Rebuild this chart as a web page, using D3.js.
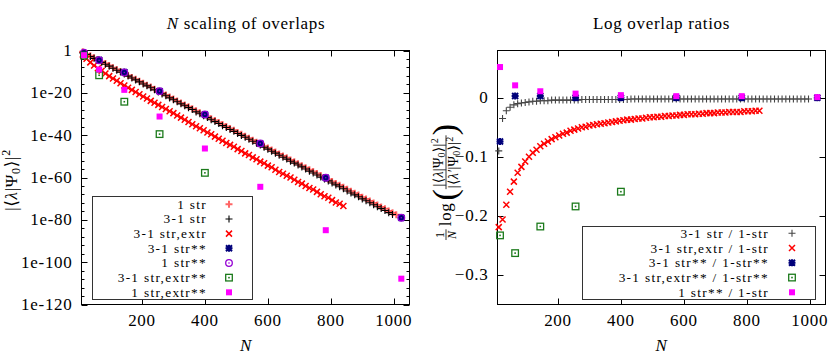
<!DOCTYPE html>
<html>
<head>
<meta charset="utf-8">
<script src="https://cdn.jsdelivr.net/npm/d3@7"></script>
<style>
  body { margin: 0; background: #fff; }
  svg text { font-family: "Liberation Serif", "DejaVu Serif", serif; font-size: 17px; fill: #000; letter-spacing: 0.7px; }
  svg text.leg { font-size: 13.3px; letter-spacing: 1.3px; }
</style>
</head>
<body>
<svg id="chart" width="831" height="360"></svg>
<script>
// ---- data ----
// dense runs sit on an N grid with step 12
const gridN1 = d3.range(12, 1009, 12);   // 1 str
const gridN31 = d3.range(12, 997, 12);   // 3-1 str
const gridNExtr = d3.range(12, 841, 12); // 3-1 str,extr

// left panel: log10 |<lambda|Psi0>|^2
const oneStrLog = [
  -0.6, -1.6, -2.5, -3.4, -4.3, -5.3, -6.2, -7.1, -8.1, -9.0,
  -9.9, -10.8, -11.8, -12.7, -13.6, -14.5, -15.5, -16.4, -17.3, -18.3,
  -19.2, -20.1, -21.0, -22.0, -22.9, -23.8, -24.8, -25.7, -26.6, -27.5,
  -28.5, -29.4, -30.3, -31.2, -32.2, -33.1, -34.0, -35.0, -35.9, -36.8,
  -37.7, -38.7, -39.6, -40.5, -41.4, -42.4, -43.3, -44.2, -45.2, -46.1,
  -47.0, -47.9, -48.9, -49.8, -50.7, -51.7, -52.6, -53.5, -54.4, -55.4,
  -56.3, -57.2, -58.1, -59.1, -60.0, -60.9, -61.9, -62.8, -63.7, -64.6,
  -65.6, -66.5, -67.4, -68.3, -69.3, -70.2, -71.1, -72.1, -73.0, -73.9,
  -74.8, -75.8, -76.7, -77.6
];
const threeOneStrLog = [
  -1.1, -1.9, -2.8, -3.7, -4.6, -5.6, -6.5, -7.4, -8.4, -9.3,
  -10.2, -11.1, -12.1, -13.0, -13.9, -14.8, -15.8, -16.7, -17.6, -18.6,
  -19.6, -20.5, -21.4, -22.4, -23.3, -24.2, -25.2, -26.1, -27.0, -27.9,
  -29.0, -29.9, -30.8, -31.7, -32.7, -33.6, -34.5, -35.5, -36.4, -37.3,
  -38.2, -39.2, -40.1, -41.0, -41.9, -42.9, -43.8, -44.7, -45.7, -46.6,
  -47.6, -48.5, -49.5, -50.4, -51.3, -52.3, -53.2, -54.1, -55.0, -56.0,
  -57.0, -57.9, -58.8, -59.8, -60.7, -61.6, -62.6, -63.5, -64.4, -65.3,
  -66.4, -67.3, -68.2, -69.1, -70.1, -71.0, -71.9, -72.9, -73.8, -74.7,
  -75.6, -76.6, -77.5
];
const threeOneExtrLog = [
  -1.9, -3.9, -5.6, -7.1, -8.4, -9.6, -10.9, -12.1, -13.2, -14.3,
  -15.5, -16.5, -17.6, -18.6, -19.6, -20.7, -21.7, -22.7, -23.8, -24.7,
  -25.7, -26.7, -27.6, -28.7, -29.6, -30.7, -31.7, -32.7, -33.8, -34.8,
  -35.8, -36.7, -37.7, -38.7, -39.6, -40.7, -41.7, -42.6, -43.7, -44.6,
  -45.5, -46.6, -47.5, -48.6, -49.4, -50.5, -51.4, -52.5, -53.3, -54.4,
  -55.2, -56.3, -57.4, -58.2, -59.2, -60.0, -61.1, -62.1, -62.9, -64.0,
  -65.0, -65.7, -66.8, -67.9, -68.9, -69.6, -70.7, -71.8, -72.4, -73.5
];
const starN = [16, 64, 144, 256, 400, 576, 784, 1024];
const extrStarN = [16, 64, 144, 256, 400];
const threeOneStarLog = [-1.5, -4.5, -10.2, -19.2, -30.2, -43.9, -60.1, -79.0];
const oneStarLog = [-1.0, -4.6, -10.4, -19.2, -30.2, -43.9, -60.1, -79.0];
const threeOneExtrStarLog = [-2.4, -11.7, -24.2, -39.5, -57.8];
const oneExtrStarLog = [-2.2, -9.0, -18.6, -31.2, -46.3, -64.4, -84.9, -107.8];

// right panel: (1/N) log ratios
const ratio31 = [
  -0.090, -0.035, -0.022, -0.016, -0.012, -0.010, -0.009, -0.008, -0.007, -0.006,
  -0.006, -0.005, -0.005, -0.005, -0.004, -0.004, -0.004, -0.004, -0.004, -0.004,
  -0.004, -0.004, -0.003, -0.003, -0.003, -0.003, -0.003, -0.003, -0.003, -0.003,
  -0.003, -0.003, -0.003, -0.003, -0.003, -0.002, -0.002, -0.002, -0.002, -0.002,
  -0.002, -0.002, -0.002, -0.002, -0.002, -0.002, -0.002, -0.002, -0.002, -0.002,
  -0.002, -0.002, -0.002, -0.002, -0.002, -0.002, -0.002, -0.002, -0.002, -0.002,
  -0.002, -0.002, -0.002, -0.002, -0.002, -0.002, -0.002, -0.002, -0.002, -0.002,
  -0.002, -0.002, -0.002, -0.002, -0.002, -0.002, -0.002, -0.002, -0.002, -0.002,
  -0.002, -0.002, -0.002
];
const ratioExtr = [
  -0.219, -0.206, -0.181, -0.159, -0.142, -0.127, -0.117, -0.108, -0.100, -0.093,
  -0.088, -0.082, -0.078, -0.074, -0.070, -0.067, -0.064, -0.061, -0.059, -0.056,
  -0.054, -0.052, -0.050, -0.049, -0.047, -0.046, -0.045, -0.044, -0.043, -0.042,
  -0.041, -0.040, -0.039, -0.038, -0.037, -0.037, -0.036, -0.035, -0.035, -0.034,
  -0.033, -0.033, -0.032, -0.032, -0.031, -0.031, -0.030, -0.030, -0.029, -0.029,
  -0.028, -0.028, -0.028, -0.027, -0.027, -0.026, -0.026, -0.026, -0.025, -0.025,
  -0.025, -0.024, -0.024, -0.024, -0.024, -0.023, -0.023, -0.023, -0.022, -0.022
];
const ratio31Star = [-0.074, 0.003, 0.003, 0.000, 0.000, 0.000, 0.000, 0.000];
const ratioExtrStar = [-0.233, -0.263, -0.218, -0.184, -0.159];
const ratio1Star = [0.052, 0.021, 0.011, 0.007, 0.0044, 0.0027, 0.0027, 0.001];

const leftYTicks = [0, -20, -40, -60, -80, -100, -120];
const rightYTicks = [0, -0.1, -0.2, -0.3];
const xTicks = [200, 400, 600, 800, 1000];

// ---- styles ----
const RED = '#ff0000', NAVY = '#00007a', PURPLE = '#9400d3', GREEN = '#1b7a1b', MAGENTA = '#ff00ff';

const svg = d3.select('#chart');

function marker(g, type, x, y, color) {
  const s = 3.5;
  if (type === 'plus' || type === 'plusband' || type === 'plusgrey') {
    g.append('path')
      .attr('d', `M${x - s},${y}H${x + s}M${x},${y - s}V${y + s}`)
      .attr('stroke', color)
      .attr('stroke-width', type === 'plusband' ? 2 : 1.1)
      .attr('stroke-opacity', type === 'plusband' ? 0.6 : 1)
      .attr('fill', 'none');
  } else if (type === 'cross') {
    const c = 3;
    g.append('path')
      .attr('d', `M${x - c},${y - c}L${x + c},${y + c}M${x - c},${y + c}L${x + c},${y - c}`)
      .attr('stroke', color).attr('stroke-width', 1.5).attr('fill', 'none');
  } else if (type === 'star') {
    const c = 3;
    g.append('path')
      .attr('d', `M${x - c},${y - c}L${x + c},${y + c}M${x - c},${y + c}L${x + c},${y - c}M${x - s},${y}H${x + s}M${x},${y - s}V${y + s}`)
      .attr('stroke', color).attr('stroke-width', 2).attr('fill', 'none');
  } else if (type === 'circle') {
    g.append('circle').attr('cx', x).attr('cy', y).attr('r', 3.3)
      .attr('fill', 'none').attr('stroke', color).attr('stroke-width', 1.3);
    g.append('circle').attr('cx', x).attr('cy', y).attr('r', 0.8).attr('fill', color);
  } else if (type === 'square') {
    g.append('rect').attr('x', x - 3.3).attr('y', y - 3.3).attr('width', 6.6).attr('height', 6.6)
      .attr('fill', 'none').attr('stroke', color).attr('stroke-width', 1.3);
    g.append('rect').attr('x', x - 0.8).attr('y', y - 0.8).attr('width', 1.6).attr('height', 1.6).attr('fill', color);
  } else if (type === 'fsquare') {
    g.append('rect').attr('x', x - 3).attr('y', y - 3).attr('width', 6).attr('height', 6).attr('fill', color);
  }
}

function frame(box, x, y, yTicks, yFmt, minorTicks) {
  const g = svg.append('g');
  g.append('rect')
    .attr('x', box.x0).attr('y', box.y0)
    .attr('width', box.x1 - box.x0).attr('height', box.y1 - box.y0)
    .attr('fill', 'none').attr('stroke', '#000').attr('stroke-width', 1);
  const tk = [];
  xTicks.forEach(t => {
    const px = Math.round(x(t)) + 0.5;
    tk.push(`M${px},${box.y1}v-6M${px},${box.y0}v6`);
    g.append('text').attr('x', x(t)).attr('y', 326).attr('text-anchor', 'middle').text(t);
  });
  yTicks.forEach(t => {
    const py = Math.round(y(t)) + 0.5;
    tk.push(`M${box.x0},${py}h6M${box.x1},${py}h-6`);
    g.append('text').attr('x', box.x0 - 9).attr('y', y(t) + 5.5).attr('text-anchor', 'end').text(yFmt(t));
  });
  (minorTicks || []).forEach(t => {
    const py = Math.round(y(t)) + 0.5;
    tk.push(`M${box.x0},${py}h3M${box.x1},${py}h-3`);
  });
  g.append('path').attr('d', tk.join('')).attr('stroke', '#000').attr('stroke-width', 1).attr('fill', 'none');
  return g;
}

function legend(box, textX, markX, rowY, step, entries) {
  const g = svg.append('g');
  g.append('rect')
    .attr('x', box.x0).attr('y', box.y0)
    .attr('width', box.x1 - box.x0).attr('height', box.y1 - box.y0)
    .attr('fill', '#fff').attr('stroke', '#333').attr('stroke-width', 1);
  entries.forEach((e, i) => {
    const cy = rowY + i * step;
    g.append('text').attr('class', 'leg').attr('x', textX).attr('y', cy + 4.5).attr('text-anchor', 'end').text(e.label);
    marker(g, e.type, markX, cy, e.color);
  });
}

function series(g, xs, vals, x, y, type, color) {
  xs.forEach((n, i) => marker(g, type, x(n), y(vals[i]), color));
}

// ================= left panel =================
const L = { x0: 81.5, x1: 409.5, y0: 50.5, y1: 304.5 };
const xL = d3.scaleLinear().domain([8, 1050]).range([L.x0, L.x1]);
const yLog = d3.scaleLog().domain([1e-120, 1]).range([L.y1, L.y0]);
const yL = e => yLog(Math.pow(10, e));

const minorL = d3.range(0, -121, -4).filter(e => e % 20 !== 0);
frame(L, xL, yL, leftYTicks, e => e === 0 ? '1' : `1e${e}`, minorL);

const pl = svg.append('g');
series(pl, gridN1, oneStrLog, xL, yL, 'plusband', RED);
series(pl, gridN31, threeOneStrLog, xL, yL, 'plus', '#000');
series(pl, gridNExtr, threeOneExtrLog, xL, yL, 'cross', RED);
series(pl, starN, threeOneStarLog, xL, yL, 'star', NAVY);
series(pl, starN, oneStarLog, xL, yL, 'circle', PURPLE);
series(pl, extrStarN, threeOneExtrStarLog, xL, yL, 'square', GREEN);
series(pl, starN, oneExtrStarLog, xL, yL, 'fsquare', MAGENTA);

legend({ x0: 92.5, x1: 252.5, y0: 196.5, y1: 299.5 }, 207, 229, 204.3, 14.67, [
  { label: '1 str', type: 'plusband', color: RED },
  { label: '3-1 str', type: 'plus', color: '#000' },
  { label: '3-1 str,extr', type: 'cross', color: RED },
  { label: '3-1 str**', type: 'star', color: NAVY },
  { label: '1 str**', type: 'circle', color: PURPLE },
  { label: '3-1 str,extr**', type: 'square', color: GREEN },
  { label: '1 str,extr**', type: 'fsquare', color: MAGENTA }
]);

// titles & labels
const t1 = svg.append('text').attr('x', 246).attr('y', 29).attr('text-anchor', 'middle');
t1.append('tspan').style('font-style', 'italic').text('N');
t1.append('tspan').text(' scaling of overlaps');
svg.append('text').attr('x', 246).attr('y', 351).attr('text-anchor', 'middle').style('font-style', 'italic').text('N');

const ylab = svg.append('text').attr('transform', 'translate(17,180) rotate(-90)').attr('text-anchor', 'middle');
ylab.append('tspan').text('|⟨');
ylab.append('tspan').style('font-style', 'italic').text('λ');
ylab.append('tspan').text('|Ψ');
ylab.append('tspan').attr('dy', 3).style('font-size', '12px').text('0');
ylab.append('tspan').attr('dy', -3).text('⟩|');
ylab.append('tspan').attr('dy', -7).style('font-size', '12px').text('2');

// ================= right panel =================
const R = { x0: 497.5, x1: 825.5, y0: 50.5, y1: 304.5 };
const xR = d3.scaleLinear().domain([8, 1050]).range([R.x0, R.x1]);
const yR = d3.scaleLinear().domain([-0.35, 0.08]).range([R.y1, R.y0]);

frame(R, xR, yR, rightYTicks, t => t === 0 ? '0' : d3.format('.1f')(t), []);

const pr = svg.append('g');
series(pr, gridN31, ratio31, xR, yR, 'plusgrey', '#444');
series(pr, gridNExtr, ratioExtr, xR, yR, 'cross', RED);
series(pr, starN, ratio31Star, xR, yR, 'star', NAVY);
series(pr, extrStarN, ratioExtrStar, xR, yR, 'square', GREEN);
series(pr, starN, ratio1Star, xR, yR, 'fsquare', MAGENTA);

legend({ x0: 582.5, x1: 815.5, y0: 226.5, y1: 299.5 }, 769, 792, 233.3, 14.75, [
  { label: '3-1 str / 1-str', type: 'plusgrey', color: '#444' },
  { label: '3-1 str,extr / 1-str', type: 'cross', color: RED },
  { label: '3-1 str** / 1-str**', type: 'star', color: NAVY },
  { label: '3-1 str,extr** / 1-str**', type: 'square', color: GREEN },
  { label: '1 str** / 1-str', type: 'fsquare', color: MAGENTA }
]);

svg.append('text').attr('x', 661.5).attr('y', 29).attr('text-anchor', 'middle').text('Log overlap ratios');
svg.append('text').attr('x', 661.5).attr('y', 351).attr('text-anchor', 'middle').style('font-style', 'italic').text('N');

// right y label: (1/N) log( |<λ|Ψ0>|^2 / |<λ'|Ψ0>|^2 )
const yl = svg.append('g').attr('transform', 'translate(451,182) rotate(-90)');
function bra(g, prime, size) {
  const t = g.append('text').style('font-size', size + 'px').style('letter-spacing', '0.3px');
  t.append('tspan').text('|⟨');
  t.append('tspan').style('font-style', 'italic').text(prime ? 'λ′' : 'λ');
  t.append('tspan').text('|Ψ');
  t.append('tspan').attr('dy', 2).style('font-size', (size - 4) + 'px').text('0');
  t.append('tspan').attr('dy', -2).text('⟩|');
  t.append('tspan').attr('dy', -5).style('font-size', (size - 4) + 'px').text('2');
  return t;
}
const f1n = yl.append('text').style('font-size', '12px').text('1');
const f1d = yl.append('text').style('font-size', '12px').style('font-style', 'italic').text('N');
const logT = yl.append('text').text('log');
const lp = yl.append('text').style('font-size', '34px').style('letter-spacing', '0').text('(');
const num = bra(yl, false, 14);
const den = bra(yl, true, 14);
const rp = yl.append('text').style('font-size', '34px').style('letter-spacing', '0').text(')');

const len = s => s.node().getComputedTextLength();
const w1 = Math.max(len(f1n), len(f1d)) + 2;
const wLog = len(logT), wP = len(lp), wF = Math.max(len(num), len(den)) + 2;
const total = w1 + 3 + wLog + 2 + wP + wF + wP;
let cx = -total / 2;
const axisY = -5;
f1n.attr('x', cx + w1 / 2).attr('y', axisY - 2.5).attr('text-anchor', 'middle');
f1d.attr('x', cx + w1 / 2).attr('y', axisY + 10).attr('text-anchor', 'middle');
yl.append('line').attr('x1', cx).attr('x2', cx + w1).attr('y1', axisY).attr('y2', axisY)
  .attr('stroke', '#000').attr('stroke-width', 0.8);
cx += w1 + 3;
logT.attr('x', cx).attr('y', 0);
cx += wLog + 2;
lp.attr('x', cx).attr('y', 5);
cx += wP;
num.attr('x', cx + wF / 2).attr('y', axisY - 3).attr('text-anchor', 'middle');
den.attr('x', cx + wF / 2).attr('y', axisY + 12).attr('text-anchor', 'middle');
yl.append('line').attr('x1', cx).attr('x2', cx + wF).attr('y1', axisY).attr('y2', axisY)
  .attr('stroke', '#000').attr('stroke-width', 0.8);
cx += wF;
rp.attr('x', cx).attr('y', 5);
</script>
</body>
</html>
